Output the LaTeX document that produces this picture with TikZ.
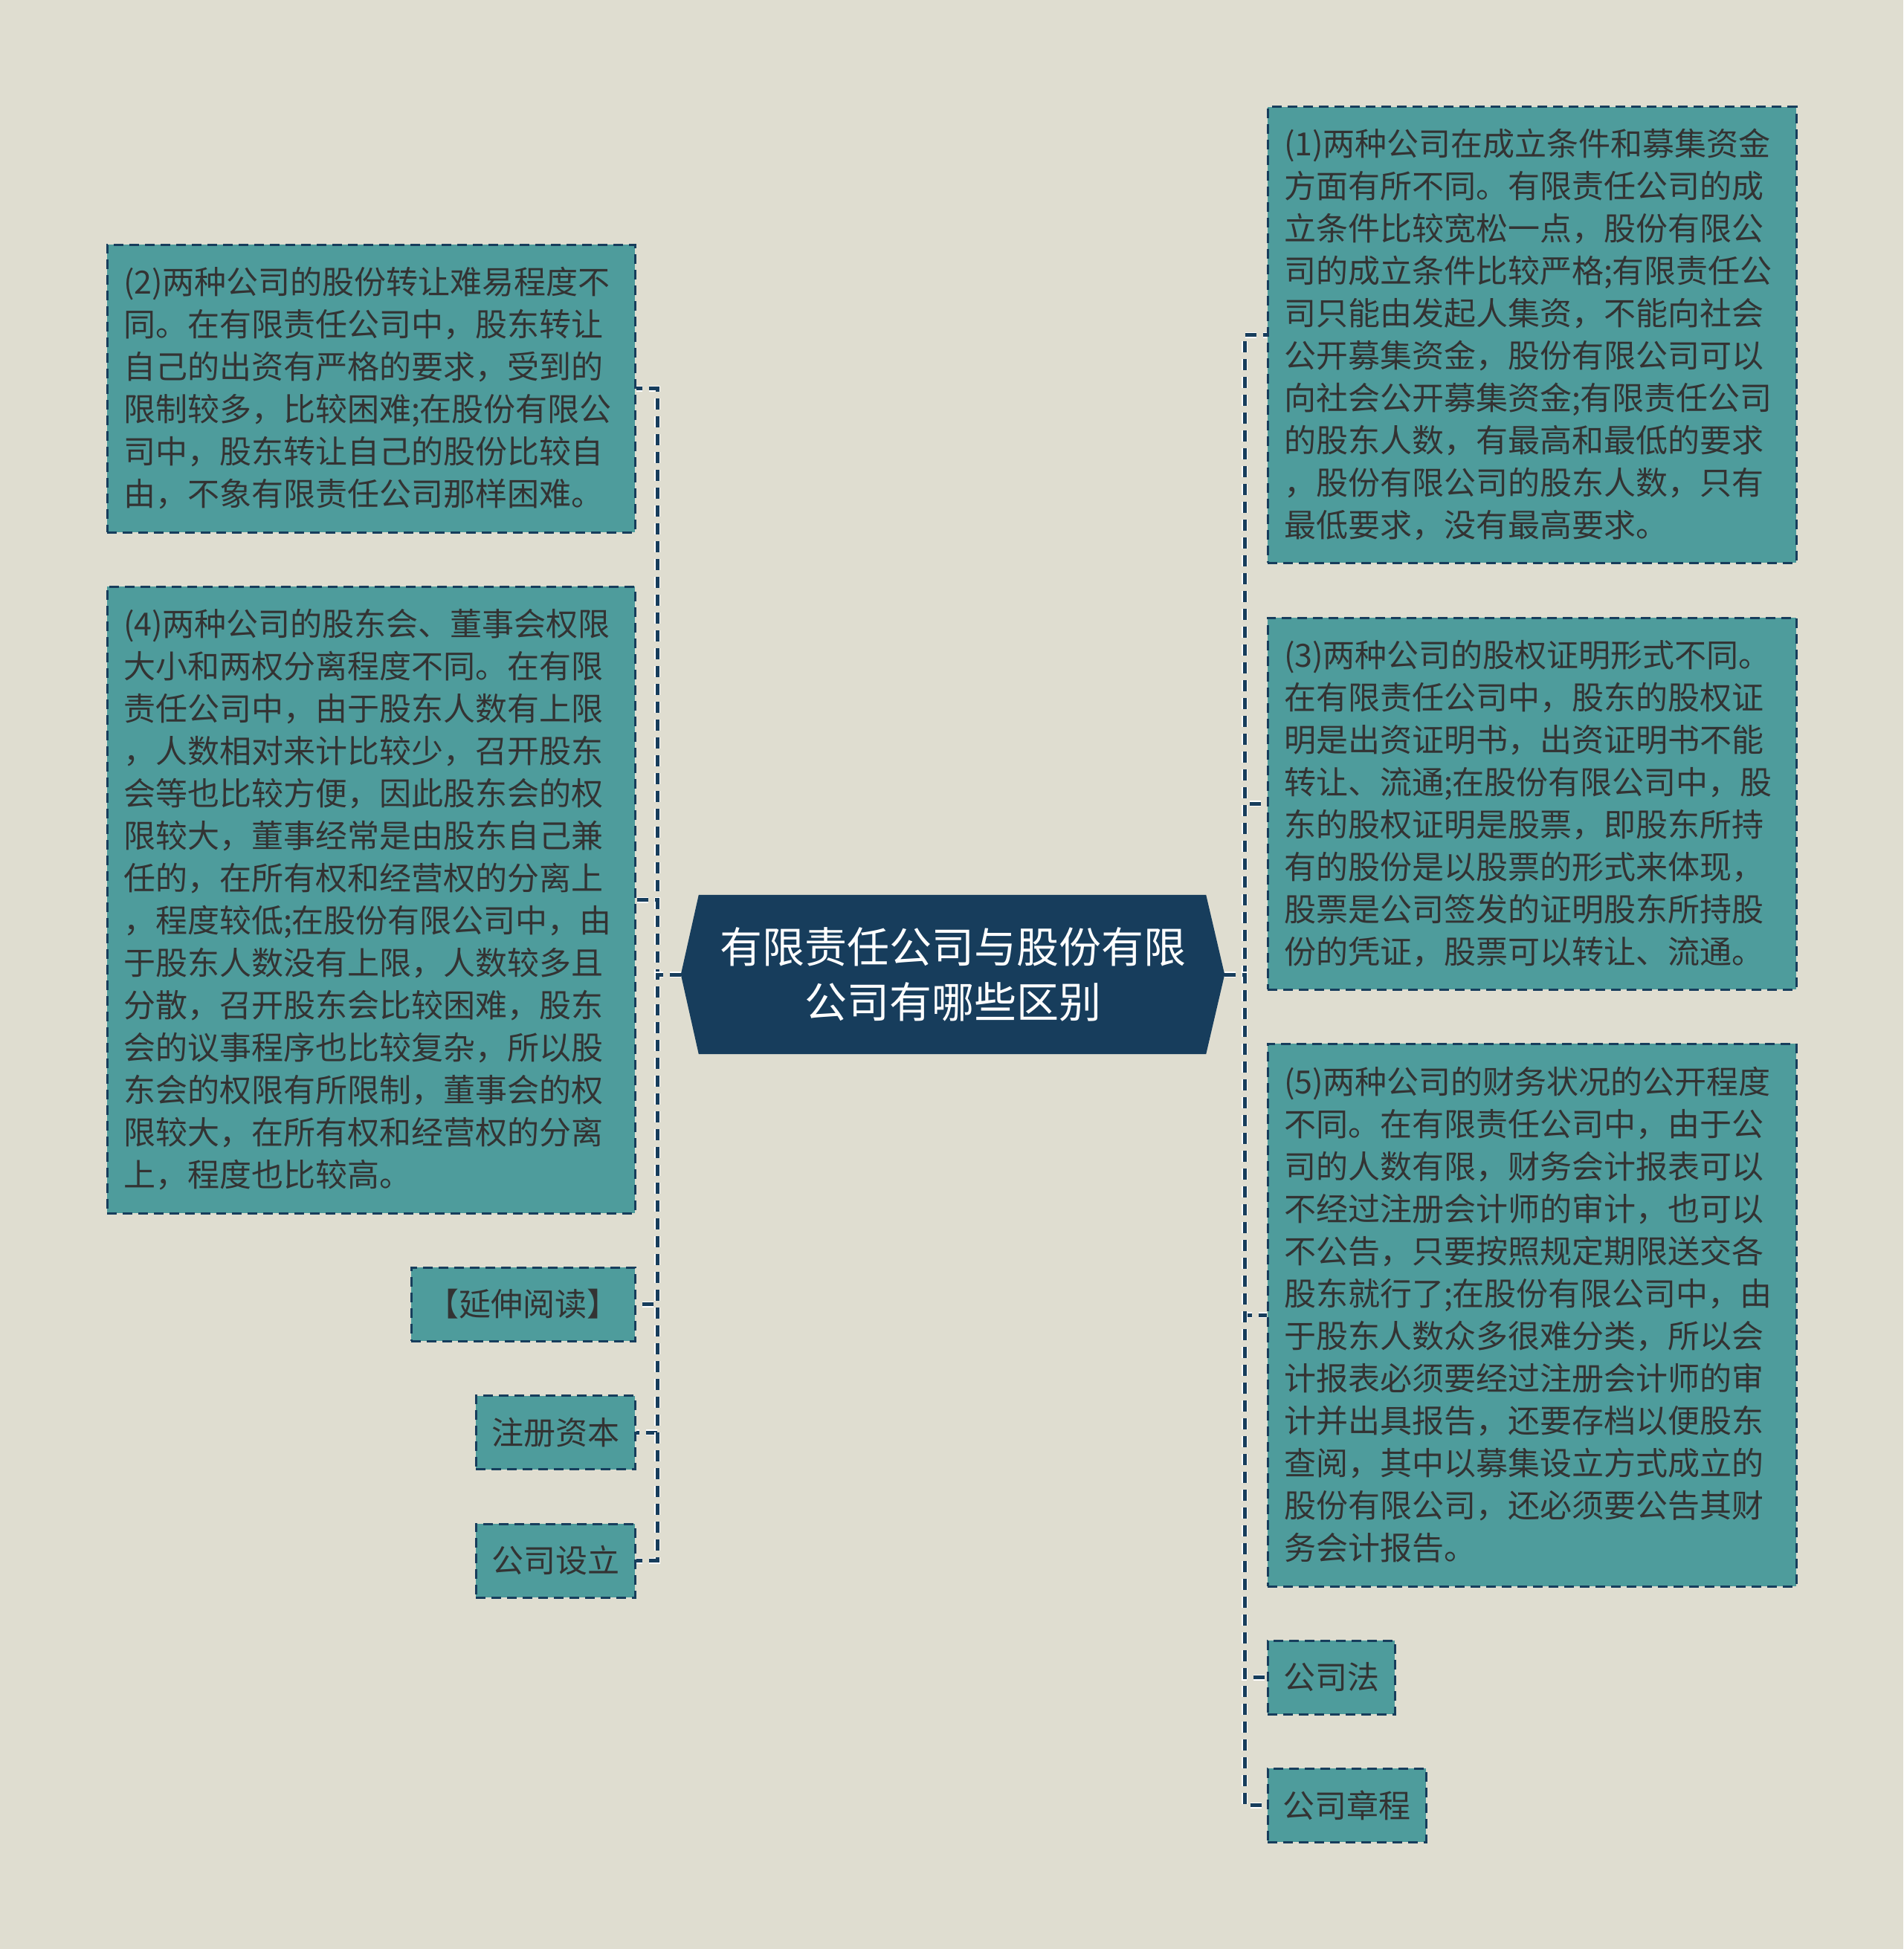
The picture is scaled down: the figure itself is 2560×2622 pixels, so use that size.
\documentclass[tikz,border=0pt]{standalone}
\usepackage{fontspec}
\setmainfont{Noto Sans CJK SC}
\definecolor{bgcol}{HTML}{DFDDD0}
\definecolor{boxfill}{HTML}{4E9C9C}
\definecolor{linecol}{HTML}{173D5C}
\definecolor{txtcol}{HTML}{333333}
\tikzset{
  leaf/.style={draw=linecol, fill=boxfill, line width=3pt, dash pattern=on 13pt off 8pt,
    text=txtcol, font=\fontsize{43}{57}\selectfont, inner sep=0pt, align=left},
  conn/.style={draw=linecol, line width=5pt, dash pattern=on 15pt off 9pt,
    preaction={draw=white, line width=8pt, dash pattern=on 15pt off 9pt}},
}
\begin{document}
\begin{tikzpicture}[x=1pt,y=-1pt]
\fill[bgcol] (0,0) rectangle (2560,2622);
\useasboundingbox (0,0) rectangle (2560,2622);

% central node
\node[minimum width=731pt, minimum height=214pt, inner sep=0pt] (c) at (1281.5,1311) {};
\fill[linecol] (c.west) -- ([xshift=24pt]c.north west) -- ([xshift=-25pt]c.north east)
  -- (c.east) -- ([xshift=-25pt]c.south east) -- ([xshift=24pt]c.south west) -- cycle;
\node[text=white, font=\fontsize{57}{74}\selectfont, align=center, inner sep=0pt] (ct) at (c.center)
  {有限责任公司与股份有限\\公司有哪些区别};

\coordinate (lt) at (884,1311);
\coordinate (rt) at (1674,1311);

% left boxes
\node[leaf, minimum width=710pt, minimum height=387pt, text width=666pt] (b2) at (499,522.5)
{(2)两种公司的股份转让难易程度不\\同。在有限责任公司中，股东转让\\自己的出资有严格的要求，受到的\\限制较多，比较困难;在股份有限公\\司中，股东转让自己的股份比较自\\由，不象有限责任公司那样困难。};

\node[leaf, minimum width=710pt, minimum height=843pt, text width=666pt] (b4) at (499,1210.5)
{(4)两种公司的股东会、董事会权限\\大小和两权分离程度不同。在有限\\责任公司中，由于股东人数有上限\\，人数相对来计比较少，召开股东\\会等也比较方便，因此股东会的权\\限较大，董事经常是由股东自己兼\\任的，在所有权和经营权的分离上\\，程度较低;在股份有限公司中，由\\于股东人数没有上限，人数较多且\\分散，召开股东会比较困难，股东\\会的议事程序也比较复杂，所以股\\东会的权限有所限制，董事会的权\\限较大，在所有权和经营权的分离\\上，程度也比较高。};

\node[leaf, minimum width=301pt, minimum height=99pt] (r1) at (703.5,1754.5) {【延伸阅读】};
\node[leaf, minimum width=214pt, minimum height=99pt] (r2) at (747,1927) {注册资本};
\node[leaf, minimum width=214pt, minimum height=99pt] (r3) at (747,2099.5) {公司设立};

% right boxes
\node[leaf, minimum width=711pt, minimum height=613pt, text width=667pt] (b1) at (2060.5,450.5)
{(1)两种公司在成立条件和募集资金\\方面有所不同。有限责任公司的成\\立条件比较宽松一点，股份有限公\\司的成立条件比较严格;有限责任公\\司只能由发起人集资，不能向社会\\公开募集资金，股份有限公司可以\\向社会公开募集资金;有限责任公司\\的股东人数，有最高和最低的要求\\，股份有限公司的股东人数，只有\\最低要求，没有最高要求。};

\node[leaf, minimum width=711pt, minimum height=500pt, text width=667pt] (b3) at (2060.5,1081)
{(3)两种公司的股权证明形式不同。\\在有限责任公司中，股东的股权证\\明是出资证明书，出资证明书不能\\转让、流通;在股份有限公司中，股\\东的股权证明是股票，即股东所持\\有的股份是以股票的形式来体现，\\股票是公司签发的证明股东所持股\\份的凭证，股票可以转让、流通。};

\node[leaf, minimum width=711pt, minimum height=730pt, text width=667pt] (b5) at (2060.5,1769)
{(5)两种公司的财务状况的公开程度\\不同。在有限责任公司中，由于公\\司的人数有限，财务会计报表可以\\不经过注册会计师的审计，也可以\\不公告，只要按照规定期限送交各\\股东就行了;在股份有限公司中，由\\于股东人数众多很难分类，所以会\\计报表必须要经过注册会计师的审\\计并出具报告，还要存档以便股东\\查阅，其中以募集设立方式成立的\\股份有限公司，还必须要公告其财\\务会计报告。};

\node[leaf, minimum width=171pt, minimum height=99pt] (r4) at (1790.5,2256.5) {公司法};
\node[leaf, minimum width=213pt, minimum height=99pt] (r5) at (1811.5,2428.5) {公司章程};

% connectors
\foreach \n in {b2,b4,r1,r2,r3}{
  \draw[conn] (c.west) -- (lt) |- (\n.east);
}
\foreach \n in {b1,b3,b5,r4,r5}{
  \draw[conn] (c.east) -- (rt) |- (\n.west);
}
\end{tikzpicture}
\end{document}
